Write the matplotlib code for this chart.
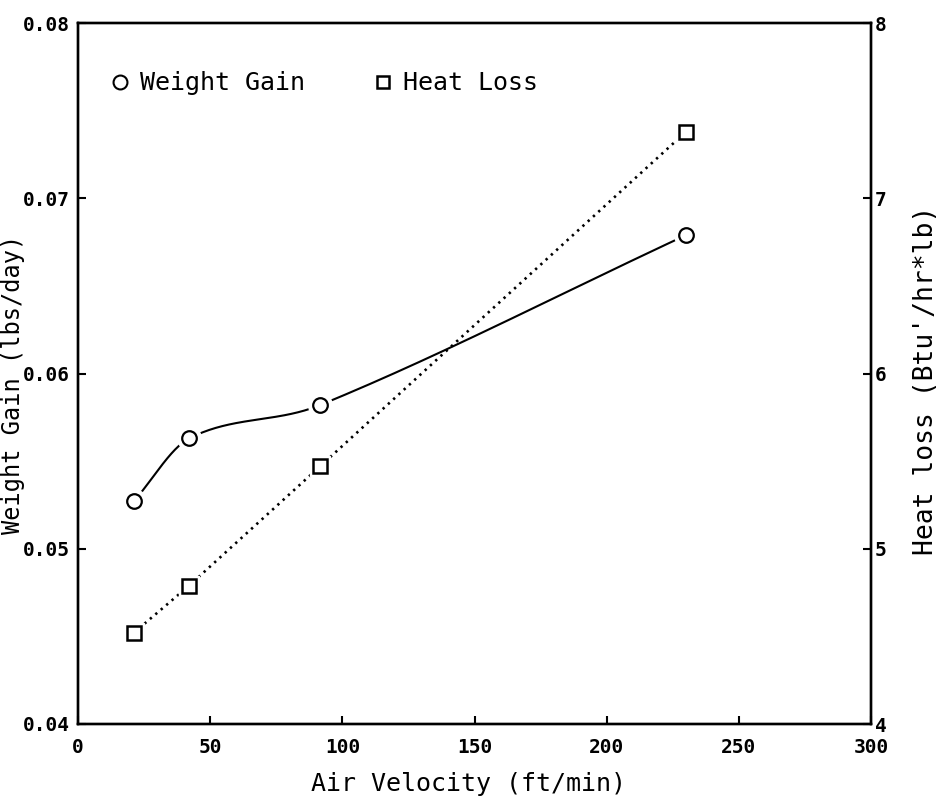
import numpy as np
import matplotlib
matplotlib.use("Agg")
import matplotlib.pyplot as plt
from matplotlib.lines import Line2D

# values
air_velocity = [21, 42, 91.5, 230]              # ft/min
weight_gain = [0.0527, 0.0563, 0.0582, 0.0679]  # lbs/day
heat_loss = [4.52, 4.79, 5.47, 7.38]            # Btu'/hr*lb


def smooth_curve(x, y, n=60):
    # catmull-rom style cubic hermite through the points (only for the drawn line)
    x = np.asarray(x, float)
    y = np.asarray(y, float)
    m = np.empty_like(y)
    m[0] = (y[1] - y[0]) / (x[1] - x[0])
    m[-1] = (y[-1] - y[-2]) / (x[-1] - x[-2])
    m[1:-1] = (y[2:] - y[:-2]) / (x[2:] - x[:-2])
    xs_all, ys_all = [], []
    for i in range(len(x) - 1):
        h = x[i + 1] - x[i]
        t = np.linspace(0, 1, n)
        h00 = 2 * t**3 - 3 * t**2 + 1
        h10 = t**3 - 2 * t**2 + t
        h01 = -2 * t**3 + 3 * t**2
        h11 = t**3 - t**2
        xs_all.append(x[i] + t * h)
        ys_all.append(h00 * y[i] + h10 * h * m[i] + h01 * y[i + 1] + h11 * h * m[i + 1])
    return np.concatenate(xs_all), np.concatenate(ys_all)


plt.rcParams['font.family'] = ['DejaVu Sans Mono', 'DejaVu Sans']

fig = plt.figure(figsize=(9.42, 8), dpi=100)
ax = fig.add_axes([0.083, 0.095, 0.8415, 0.876])
ax2 = ax.twinx()

# weight gain: smooth solid line with open circles (white halo leaves a gap)
xs, ys = smooth_curve(air_velocity, weight_gain)
ax.plot(xs, ys, color='black', lw=1.5, zorder=2)
ax.plot(air_velocity, weight_gain, 'o', ms=17, color='white', zorder=2.5)
ax.plot(air_velocity, weight_gain, 'o', ms=10.5, mfc='white', mec='black',
        mew=1.6, zorder=3)

# heat loss: dotted straight segments with open squares
ax2.plot(air_velocity, heat_loss, color='black', lw=1.9,
         linestyle=(0, (0.9, 1.8)), zorder=2)
ax2.plot(air_velocity, heat_loss, 's', ms=15, color='white', zorder=2.5)
ax2.plot(air_velocity, heat_loss, 's', ms=9.5, mfc='white', mec='black',
         mew=1.8, zorder=3)

ax.set_xlim(0, 300)
ax.set_ylim(0.04, 0.08)
ax2.set_ylim(4, 8)
ax.set_xticks([0, 50, 100, 150, 200, 250, 300])
ax.set_yticks([0.04, 0.05, 0.06, 0.07, 0.08])
ax.set_yticklabels(['0.04', '0.05', '0.06', '0.07', '0.08'])
ax2.set_yticks([4, 5, 6, 7, 8])

for a in (ax, ax2):
    for s in a.spines.values():
        s.set_linewidth(1.7)
ax.tick_params(axis='x', direction='in', length=6, width=1.5, labelsize=14, pad=10)
ax.tick_params(axis='y', direction='in', length=6, width=1.5, labelsize=14, pad=6)
ax2.tick_params(axis='y', direction='in', length=6, width=1.5, labelsize=14, pad=3)
for lab in ax.get_xticklabels() + ax.get_yticklabels() + ax2.get_yticklabels():
    lab.set_fontweight('bold')

ax.set_xlabel('Air Velocity (ft/min)', fontsize=18)
ax.xaxis.set_label_coords(0.492, -0.068)
ax.set_ylabel('Weight Gain (lbs/day)', fontsize=17, va='center')
ax.yaxis.set_label_coords(-0.082, 0.485)
ax2.set_ylabel("Heat loss (Btu'/hr*lb)", fontsize=19, va='center')
ax2.yaxis.set_label_coords(1.069, 0.49)

handles = [
    Line2D([], [], marker='o', ls='none', ms=10, mfc='white', mec='black', mew=1.5),
    Line2D([], [], marker='s', ls='none', ms=9, mfc='white', mec='black', mew=1.8),
]
ax.legend(handles, ['Weight Gain', 'Heat Loss'],
          loc='center left', bbox_to_anchor=(0.0435, 0.914), ncol=2,
          frameon=False, fontsize=18, handlelength=0.6, handletextpad=0.5,
          columnspacing=2.8, borderaxespad=0, borderpad=0)

fig.savefig('out.png', dpi=100)
